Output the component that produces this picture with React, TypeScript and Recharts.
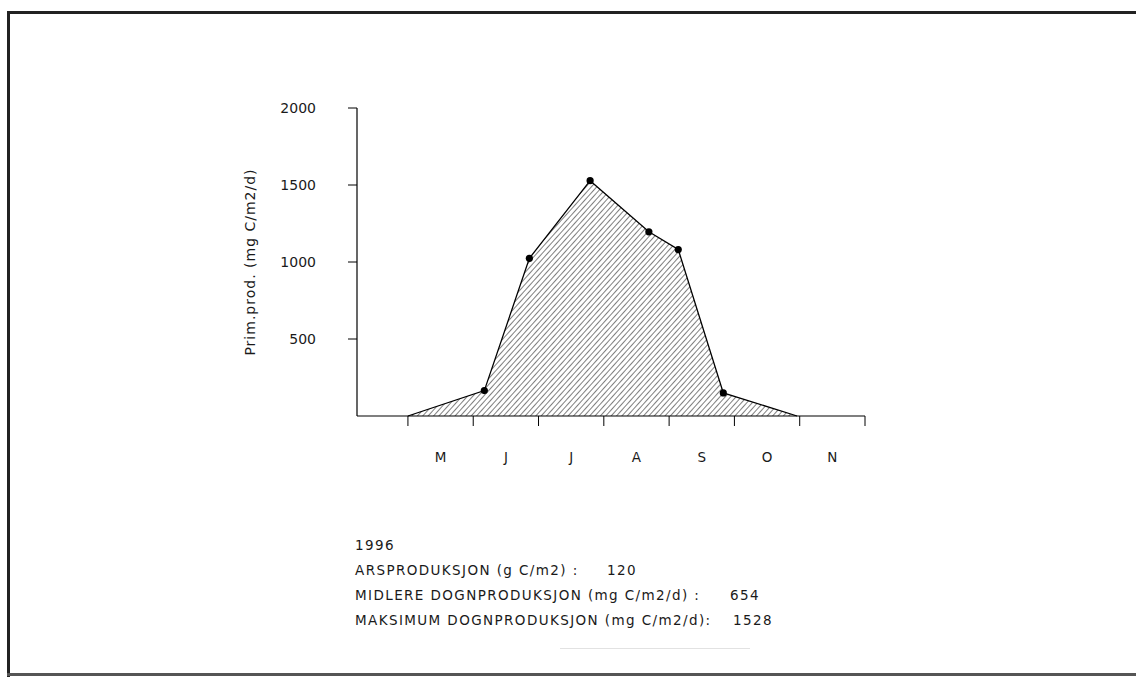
import React from 'react';
import { AreaChart, Area, XAxis, YAxis } from 'recharts';

// Month axis: 0 = January 1st (months since start of year)
const monthStarts = [4, 5, 6, 7, 8, 9, 10, 11];
const monthMids = [4.5, 5.5, 6.5, 7.5, 8.5, 9.5, 10.5];
const monthLetters = ['M', 'J', 'J', 'A', 'S', 'O', 'N'];

// Sampling dates (in months) and primary production (mg C/m2/d)
const sampleMonth = [4.0, 5.17, 5.86, 6.79, 7.69, 8.14, 8.83, 9.96];
const primProd = [0, 165, 1024, 1528, 1196, 1081, 150, 0];
const sampled = [false, true, true, true, true, true, true, false];

const yTicks = [500, 1000, 1500, 2000];
const yLabel = 'Prim.prod.  (mg  C/m2/d)';

const yearLabel = '1996';
const summaryLabels = [
  'ARSPRODUKSJON (g C/m2) :',
  'MIDLERE DOGNPRODUKSJON (mg C/m2/d) :',
  'MAKSIMUM DOGNPRODUKSJON (mg C/m2/d):',
];
const summaryValues = ['120', '654', '1528'];

const data = sampleMonth.map((m, i) => ({ m, v: primProd[i], s: sampled[i] }));

const FONT = '"DejaVu Sans", "Liberation Sans", sans-serif';
const INK = '#1a1a1a';
const X_DOMAIN: [number, number] = [3.22, 11];

const renderDot = (props: any) => {
  const { cx, cy, payload, index } = props;
  if (!payload || !payload.s) return <g key={`d${index}`} />;
  return <circle key={`d${index}`} cx={cx} cy={cy} r={3.6} fill="#000" stroke="none" />;
};

const textStyle: React.CSSProperties = {
  position: 'absolute',
  fontSize: 13.5,
  color: INK,
  letterSpacing: 1.4,
  whiteSpace: 'pre',
  lineHeight: '16px',
};

export default function App() {
  const valueX = [607, 730, 733];
  return (
    <div
      style={{
        position: 'absolute',
        left: 0,
        top: 0,
        width: 1136,
        height: 677,
        overflow: 'hidden',
        background: '#fff',
        fontFamily: FONT,
      }}
    >
      {/* scanned page frame */}
      <div style={{ position: 'absolute', left: 8, top: 11, width: 1128, height: 3, background: '#222' }} />
      <div style={{ position: 'absolute', left: 7, top: 11, width: 3, height: 666, background: '#222' }} />
      <div style={{ position: 'absolute', left: 7, top: 673, width: 1129, height: 3, background: '#555' }} />

      <AreaChart
        width={1136}
        height={677}
        data={data}
        margin={{ top: 108, right: 271, left: 240, bottom: 209 }}
        style={{ position: 'absolute', left: 0, top: 0 }}
      >
        <defs>
          <pattern id="hatch" patternUnits="userSpaceOnUse" width="4" height="4" patternTransform="rotate(42)">
            <line x1="0" y1="0" x2="0" y2="4" stroke="#000" strokeWidth="1" />
          </pattern>
        </defs>
        <XAxis
          xAxisId="a_ticks"
          dataKey="m"
          type="number"
          domain={X_DOMAIN}
          allowDataOverflow
          ticks={monthStarts}
          tickFormatter={() => ''}
          tickSize={10}
          height={12}
          axisLine={{ stroke: '#000', strokeWidth: 1.2 }}
          tickLine={{ stroke: '#000', strokeWidth: 1 }}
        />
        <XAxis
          xAxisId="b_labels"
          dataKey="m"
          type="number"
          domain={X_DOMAIN}
          allowDataOverflow
          ticks={monthMids}
          interval={0}
          tickFormatter={(v: number) => monthLetters[monthMids.indexOf(v)] ?? ''}
          tickSize={0}
          tickMargin={24}
          height={40}
          axisLine={false}
          tickLine={false}
          tick={{ fill: INK, fontSize: 13.5, fontFamily: FONT }}
        />
        <YAxis
          type="number"
          domain={[0, 2000]}
          ticks={yTicks}
          width={117}
          tickSize={9}
          tickMargin={32}
          axisLine={{ stroke: '#000', strokeWidth: 1.2 }}
          tickLine={{ stroke: '#000', strokeWidth: 1 }}
          tick={{ fill: INK, fontSize: 14, fontFamily: FONT }}
          label={{
            value: yLabel,
            angle: -90,
            position: 'insideLeft',
            offset: 10,
            style: { textAnchor: 'middle', fill: INK, fontSize: 14, fontFamily: FONT, letterSpacing: 1, whiteSpace: 'pre' },
          }}
        />
        <Area
          xAxisId="a_ticks"
          type="linear"
          dataKey="v"
          stroke="#000"
          strokeWidth={1.3}
          fill="url(#hatch)"
          fillOpacity={1}
          dot={renderDot}
          activeDot={false}
          isAnimationActive={false}
        />
      </AreaChart>

      {/* summary text block */}
      <div style={{ ...textStyle, left: 355, top: 537 }}>{yearLabel}</div>
      {summaryLabels.map((t, i) => (
        <React.Fragment key={t}>
          <div style={{ ...textStyle, left: 355, top: 562 + i * 25 }}>{t}</div>
          <div style={{ ...textStyle, left: valueX[i], top: 562 + i * 25 }}>{summaryValues[i]}</div>
        </React.Fragment>
      ))}
      <div style={{ position: 'absolute', left: 560, top: 648, width: 190, height: 1, background: '#e2e2e2' }} />
    </div>
  );
}
